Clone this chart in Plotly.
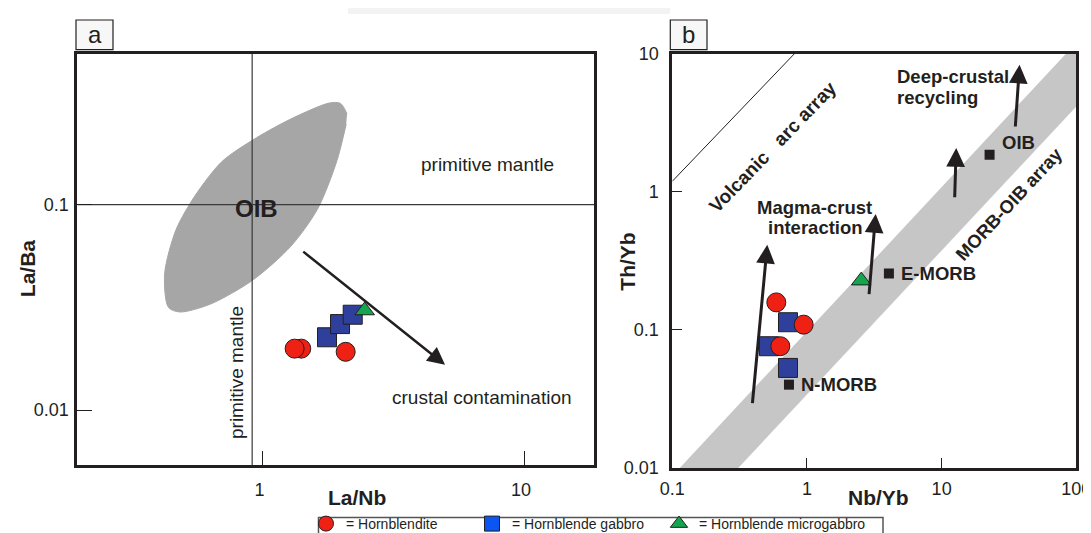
import plotly.graph_objects as go
import numpy as np

W, H = 1091, 533

# ---------------- Panel a data (La/Nb vs La/Ba) ----------------
a_hbl_lanb = [1.407, 1.327, 2.08]
a_hbl_laba = [0.0199, 0.0199, 0.0192]
a_gab_lanb = [1.765, 1.979, 2.213]
a_gab_laba = [0.0226, 0.0262, 0.0291]
a_mic_lanb = [2.459]
a_mic_laba = [0.0305]

oib_field_lanb = [2.105, 1.987, 1.797, 1.283, 0.948, 0.700, 0.553, 0.4675, 0.4225,
                  0.4368, 0.4833, 0.633, 0.916, 1.283, 1.624, 1.922, 2.09]
oib_field_laba = [0.2763, 0.3108, 0.3119, 0.2609, 0.2114, 0.1621, 0.1108, 0.0757, 0.0462,
                  0.0316, 0.0300, 0.0328, 0.0428, 0.0626, 0.0951, 0.1621, 0.2464]

pm_lanb = 0.913   # primitive mantle La/Nb
pm_laba = 0.1     # primitive mantle La/Ba

crust_arrow_lanb = [1.413, 4.99]    # tail, tip
crust_arrow_laba = [0.0598, 0.0166]

# ---------------- Panel b data (Nb/Yb vs Th/Yb) ----------------
b_hbl_nbyb = [0.592, 0.945, 0.634]
b_hbl_thyb = [0.158, 0.109, 0.0761]
b_gab_nbyb = [0.723, 0.522, 0.723]
b_gab_thyb = [0.1135, 0.0761, 0.0530]
b_mic_nbyb = [2.53]
b_mic_thyb = [0.227]

ref_names = ["N-MORB", "E-MORB", "OIB"]
ref_nbyb = [0.735, 4.06, 22.7]
ref_thyb = [0.0401, 0.2557, 1.852]

morb_oib_array_nbyb = [0.1135, 0.3075, 100, 100, 84.1]
morb_oib_array_thyb = [0.01, 0.01, 4.15, 10, 10]

arc_line_nbyb = [0.1, 0.81]
arc_line_thyb = [1.189, 10]

b_arrow_tail_nbyb = [0.3926, 2.886, 12.49, 35.2]
b_arrow_tail_thyb = [0.0288, 0.1768, 0.888, 2.89]
b_arrow_tip_nbyb = [0.5074, 3.236, 12.83, 37.9]
b_arrow_tip_thyb = [0.4136, 0.6887, 2.07, 8.30]

legend_names = ["= Hornblendite", "= Hornblende gabbro", "= Hornblende microgabbro"]

# ---------------- styling ----------------
INK = "#231f20"
RED = "#ef2114"
NAVY = "#2f3f9c"
GREEN = "#14a64f"
LEG_BLUE = "#0b55f2"
FONT = "Liberation Sans, Arial, sans-serif"

xa_range = [-0.7082, 1.2677]
ya_range = [-2.269, -0.2657]
xb_range = [-1, 2]
yb_range = [-2, 1]


def PX(px):
    return px / W


def PY(py):
    return 1 - py / H


fig = go.Figure()

mk_line = dict(color=INK, width=1)

# ---- panel a traces ----
fig.add_trace(go.Scatter(x=oib_field_lanb, y=oib_field_laba, mode="lines", fill="toself",
                         fillcolor="#a6a6a6", line=dict(color="#a6a6a6", width=1, shape="spline", smoothing=0.8),
                         xaxis="x", yaxis="y", showlegend=False, hoverinfo="skip"))
fig.add_trace(go.Scatter(x=[pm_lanb, pm_lanb], y=[10 ** ya_range[0], 10 ** ya_range[1]], mode="lines",
                         line=dict(color="#3a3a3a", width=1.2), xaxis="x", yaxis="y", showlegend=False))
fig.add_trace(go.Scatter(x=[10 ** xa_range[0], 10 ** xa_range[1]], y=[pm_laba, pm_laba], mode="lines",
                         line=dict(color="#3a3a3a", width=1.2), xaxis="x", yaxis="y", showlegend=False))
fig.add_trace(go.Scatter(x=a_gab_lanb, y=a_gab_laba, mode="markers",
                         marker=dict(symbol="square", size=19, color=NAVY, line=mk_line),
                         xaxis="x", yaxis="y", showlegend=False))
fig.add_trace(go.Scatter(x=a_hbl_lanb, y=a_hbl_laba, mode="markers",
                         marker=dict(symbol="circle", size=19, color=RED, line=mk_line),
                         xaxis="x", yaxis="y", showlegend=False))
fig.add_trace(go.Scatter(x=a_mic_lanb, y=a_mic_laba, mode="markers",
                         marker=dict(symbol="triangle-up", size=17, color=GREEN, line=mk_line),
                         xaxis="x", yaxis="y", showlegend=False))

# ---- panel b traces ----
fig.add_trace(go.Scatter(x=morb_oib_array_nbyb, y=morb_oib_array_thyb, mode="lines", fill="toself",
                         fillcolor="#c6c6c6", line=dict(color="#c6c6c6", width=0.5),
                         xaxis="x2", yaxis="y2", showlegend=False, hoverinfo="skip"))
fig.add_trace(go.Scatter(x=arc_line_nbyb, y=arc_line_thyb, mode="lines",
                         line=dict(color=INK, width=1), xaxis="x2", yaxis="y2", showlegend=False))
fig.add_trace(go.Scatter(x=ref_nbyb, y=ref_thyb, mode="markers",
                         marker=dict(symbol="square", size=10, color=INK, line=dict(width=0)),
                         xaxis="x2", yaxis="y2", showlegend=False))
fig.add_trace(go.Scatter(x=b_gab_nbyb, y=b_gab_thyb, mode="markers",
                         marker=dict(symbol="square", size=19, color=NAVY, line=mk_line),
                         xaxis="x2", yaxis="y2", showlegend=False))
fig.add_trace(go.Scatter(x=b_hbl_nbyb, y=b_hbl_thyb, mode="markers",
                         marker=dict(symbol="circle", size=19, color=RED, line=mk_line),
                         xaxis="x2", yaxis="y2", showlegend=False))
fig.add_trace(go.Scatter(x=b_mic_nbyb, y=b_mic_thyb, mode="markers",
                         marker=dict(symbol="triangle-up", size=17, color=GREEN, line=mk_line),
                         xaxis="x2", yaxis="y2", showlegend=False))

# ---- legend (dummy traces, one legend each) ----
leg_specs = [("circle", RED, "legend"), ("square", LEG_BLUE, "legend2"), ("triangle-up", GREEN, "legend3")]
for name, (sym, col, lg) in zip(legend_names, leg_specs):
    fig.add_trace(go.Scatter(x=[None], y=[None], mode="markers", name=name,
                             marker=dict(symbol=sym, size=15, color=col, line=dict(color=INK, width=1)),
                             xaxis="x2", yaxis="y2", showlegend=True, legend=lg))

# ---------------- axes ----------------
axis_common = dict(type="log", showgrid=False, zeroline=False, showline=True, mirror=True,
                   linecolor=INK, linewidth=3, ticks="inside", tickcolor=INK, tickwidth=1.2,
                   tickfont=dict(family=FONT, size=18, color=INK), automargin=False)

fig.update_layout(
    xaxis=dict(axis_common, domain=[PX(69.3), PX(586)], range=xa_range, anchor="y",
               tickvals=[1, 10], ticktext=["1", "10"], ticklen=14, ticklabelstandoff=6,
               ticklabelshift=-3),
    yaxis=dict(axis_common, domain=[PY(457.3), PY(45.7)], range=ya_range, anchor="x",
               tickvals=[0.01, 0.1], ticktext=["0.01", "0.1"], ticklen=15, ticklabelstandoff=2),
    xaxis2=dict(axis_common, domain=[PX(664.3), PX(1068.3)], range=xb_range, anchor="y2",
                tickvals=[0.1, 1, 10, 100], ticktext=["0.1", "1", "10", "100"], ticklen=10, ticklabelstandoff=2),
    yaxis2=dict(axis_common, domain=[PY(460), PY(45.5)], range=yb_range, anchor="x2",
                tickvals=[0.01, 0.1, 1, 10], ticktext=["0.01", "0.1", "1", "10"], ticklen=10, ticklabelstandoff=7),
)

# ---------------- annotations ----------------
anns = []


def txt(text, px, py, size, bold=False, angle=0, xanchor="center", color=INK):
    anns.append(dict(text=("<b>%s</b>" % text) if bold else text, x=PX(px), y=PY(py),
                     xref="paper", yref="paper", showarrow=False, xanchor=xanchor, yanchor="middle",
                     textangle=angle, font=dict(family=FONT, size=size, color=color)))


# axis titles
txt("La/Nb", 348.8, 490, 21, bold=True)
txt("La/Ba", 19.7, 260.5, 21, bold=True, angle=-90)
txt("Nb/Yb", 870, 490, 21, bold=True)
txt("Th/Yb", 620, 253.7, 21, bold=True, angle=-90)

# panel a labels
txt("OIB", 248, 200.4, 24, bold=True)
txt("primitive mantle", 479.7, 156.9, 19)
txt("primitive mantle", 227.8, 364.2, 19, angle=-90)
txt("crustal contamination", 474, 389.7, 19)

# panel b labels
txt("Volcanic\u00a0\u00a0\u00a0arc array", 764, 139, 19, bold=True, angle=-46)
txt("MORB-OIB array", 1001.7, 196, 18.5, bold=True, angle=-47)
txt("Magma-crust", 806.3, 199.4, 18.5, bold=True)
txt("interaction", 807.5, 219.7, 18.5, bold=True)
txt("Deep-crustal", 887, 68.5, 18.5, bold=True, xanchor="left")
txt("recycling", 887, 89.6, 18.5, bold=True, xanchor="left")
for nm, nx, ny in zip(ref_names, ref_nbyb, ref_thyb):
    anns.append(dict(text="<b>%s</b>" % nm, x=np.log10(nx), y=np.log10(ny), xref="x2", yref="y2",
                     showarrow=False, xanchor="left", yanchor="middle", xshift=10,
                     yshift=12 if nm == "OIB" else 0,
                     font=dict(family=FONT, size=18.5, color=INK)))

# panel labels in boxes
txt("a", 86.5, 26, 24)
txt("b", 680.5, 26, 24)

# arrows
anns.append(dict(x=np.log10(crust_arrow_lanb[1]), y=np.log10(crust_arrow_laba[1]),
                 ax=np.log10(crust_arrow_lanb[0]), ay=np.log10(crust_arrow_laba[0]),
                 xref="x", yref="y", axref="x", ayref="y", text="", showarrow=True,
                 arrowhead=2, arrowsize=1.4, arrowwidth=2.5, arrowcolor=INK))
for tx, ty, hx, hy in zip(b_arrow_tail_nbyb, b_arrow_tail_thyb, b_arrow_tip_nbyb, b_arrow_tip_thyb):
    anns.append(dict(x=np.log10(hx), y=np.log10(hy), ax=np.log10(tx), ay=np.log10(ty),
                     xref="x2", yref="y2", axref="x2", ayref="y2", text="", showarrow=True,
                     arrowhead=2, arrowsize=1.25, arrowwidth=3, arrowcolor=INK))

shapes = [
    dict(type="rect", xref="paper", yref="paper", x0=PX(340), x1=PX(662), y0=PY(6), y1=PY(0),
         line=dict(width=0), fillcolor="#f3f3f3", layer="below"),
    dict(type="rect", xref="paper", yref="paper", x0=PX(68), x1=PX(105), y0=PY(41.7), y1=PY(12),
         line=dict(color=INK, width=1.2), fillcolor="#f7f7f7", layer="below"),
    dict(type="rect", xref="paper", yref="paper", x0=PX(662.3), x1=PX(699), y0=PY(41.7), y1=PY(12),
         line=dict(color=INK, width=1.2), fillcolor="#f7f7f7", layer="below"),
    dict(type="rect", xref="paper", yref="paper", x0=PX(310.5), x1=PX(875), y0=PY(545), y1=PY(509.5),
         line=dict(color="#555555", width=1.5), fillcolor="rgba(0,0,0,0)"),
]

leg_common = dict(bgcolor="rgba(0,0,0,0)", borderwidth=0, orientation="h", xanchor="left", yanchor="middle",
                  font=dict(family=FONT, size=14, color=INK), itemsizing="trace")

fig.update_layout(
    width=W, height=H, autosize=False,
    margin=dict(l=0, r=0, t=0, b=0, pad=0, autoexpand=False),
    paper_bgcolor="white", plot_bgcolor="white",
    annotations=anns, shapes=shapes,
    legend=dict(leg_common, x=PX(298), y=PY(516)),
    legend2=dict(leg_common, x=PX(464), y=PY(516)),
    legend3=dict(leg_common, x=PX(651), y=PY(516)),
    font=dict(family=FONT, color=INK),
)

fig.write_html("out.html")
